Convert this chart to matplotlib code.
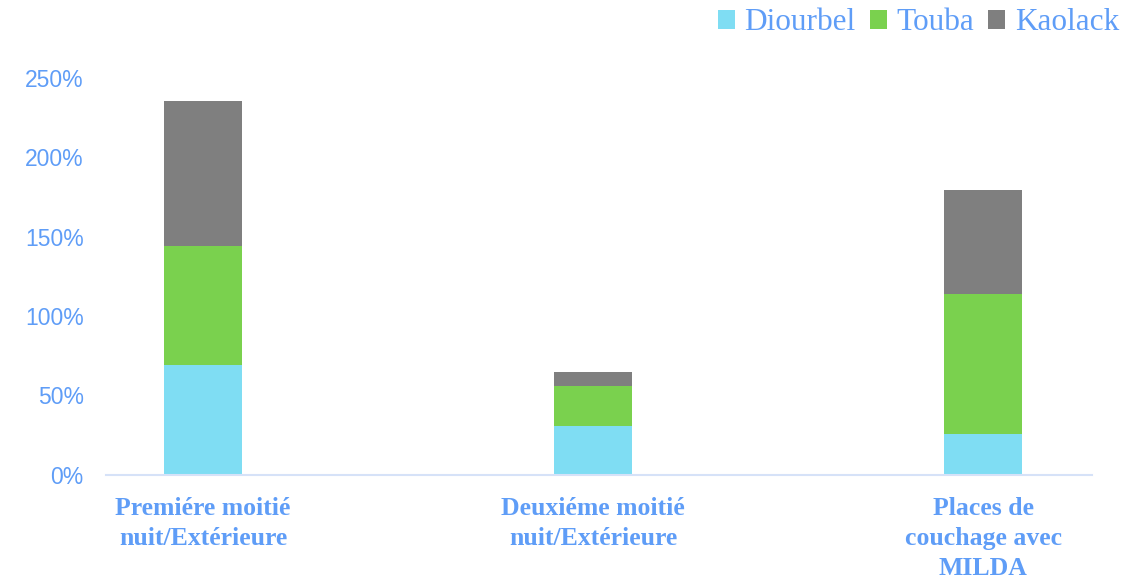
import matplotlib
matplotlib.use("Agg")
import matplotlib.pyplot as plt
from matplotlib.patches import Patch
from matplotlib.ticker import FuncFormatter

categories = ["Premiére moitié\nnuit/Extérieure",
              "Deuxiéme moitié\nnuit/Extérieure",
              "Places de\ncouchage avec\nMILDA"]
series_names = ["Diourbel", "Touba", "Kaolack"]
diourbel = [69, 31, 26]
touba = [75, 25, 88]
kaolack = [91, 9, 65]
yticks = [0, 50, 100, 150, 200, 250]

colors = ["#7FDDF3", "#7AD14E", "#7F7F7F"]
text_blue = "#5F9DF7"

fig = plt.figure(figsize=(11.48, 5.8), dpi=100)
ax = fig.add_axes([106 / 1148, 1 - 475 / 580, 986 / 1148, 397.5 / 580])

x = list(range(len(categories)))
bottom = [0] * len(categories)
for vals, col in zip([diourbel, touba, kaolack], colors):
    ax.bar(x, vals, width=0.2, bottom=bottom, color=col, linewidth=0)
    bottom = [b + v for b, v in zip(bottom, vals)]

ax.set_xlim(-0.249, 2.279)
ax.set_ylim(0, 250)
ax.set_yticks(yticks)
ax.yaxis.set_major_formatter(FuncFormatter(lambda v, p: "%d%%" % v))

for s in ["top", "right", "left"]:
    ax.spines[s].set_visible(False)
ax.spines["bottom"].set_color("#D6E2F8")
ax.spines["bottom"].set_linewidth(1.5)

ax.tick_params(axis="y", length=0, pad=16, labelsize=16.5, labelcolor=text_blue)
for lab in ax.get_yticklabels():
    lab.set_fontfamily("Liberation Sans")

ax.set_xticks(x)
ax.set_xticklabels(categories, fontfamily="Liberation Serif", fontweight="bold",
                   fontsize=18.5, color=text_blue, linespacing=1.38)
ax.tick_params(axis="x", length=0, pad=16)

handles = [Patch(facecolor=c, edgecolor="none") for c in colors]
leg = fig.legend(handles, series_names, loc="center right",
                 bbox_to_anchor=(1119 / 1148, 1 - 23 / 580), ncol=3, frameon=False,
                 prop={"family": "Liberation Serif", "size": 22.5},
                 handlelength=0.55, handleheight=0.55, handletextpad=0.3,
                 columnspacing=0.45, borderpad=0, borderaxespad=0)
for t in leg.get_texts():
    t.set_color(text_blue)

fig.savefig("out.png", dpi=100)
